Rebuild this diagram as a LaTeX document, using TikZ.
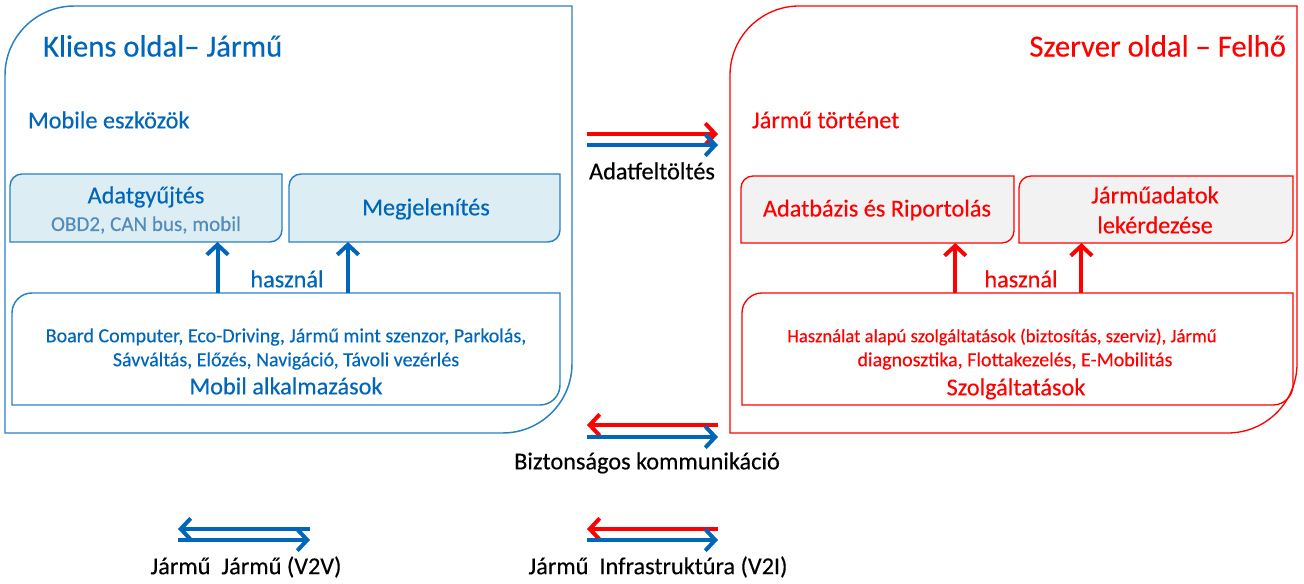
\documentclass[tikz,border=0pt]{standalone}
\usepackage{fontspec}
\setmainfont{Carlito}
\usetikzlibrary{arrows.meta,fit,backgrounds,calc}
\definecolor{kek}{RGB}{0,102,186}
\definecolor{keret}{RGB}{40,128,196}
\definecolor{halvany}{RGB}{220,238,244}
\definecolor{szurke}{RGB}{242,242,242}
\definecolor{piros}{RGB}{255,0,0}
\definecolor{alszov}{RGB}{84,140,184}
\newcommand{\fsize}[1]{\fontsize{#1}{#1}\selectfont\addfontfeature{FakeBold=0.35}}
% box with two round corners: top left and bottom right
\newcommand{\cornerbox}[3]{\draw [#3] (#1.south west) [rounded corners=#2] -- (#1.north west) [sharp corners] -- (#1.north east) [rounded corners=#2] -- (#1.south east) [sharp corners] -- cycle;}
\tikzset{
  hely/.style={inner sep=0pt,outer sep=0pt,align=center},
  cim/.style={font=\fsize{23}},
  alcim/.style={font=\fsize{18.2}},
  szoveg/.style={font=\fsize{18.2}},
  kicsi/.style={font=\fsize{15}},
  kicsiP/.style={font=\fsize{14}},
  nyil/.style={line width=3pt,-{Straight Barb[length=7.5pt,width=16pt,line width=3pt]}},
}
\begin{document}
\begin{tikzpicture}[x=0.75pt,y=-0.75pt]
\useasboundingbox (0,0) rectangle (1304,584);

% kliens oldal
\node [hely,fit={(5,6) (572,433)}] (kliens) {};
\node [hely,kek,cim,anchor=west] (kliensCim) at (43,46) {Kliens oldal-- Jármű};
\node [hely,kek,alcim,anchor=west] (mobile) at (28,120) {Mobile eszközök};
\node [hely,fit={(10,174) (282,242)},kek,alcim] (adat) {};
\node [hely,kek,alcim] (adatCim) at (146,197) {Adatgyűjtés};
\node [hely,alszov,font=\fsize{15.8}] (adatAl) at (146,225) {OBD2, CAN bus, mobil};
\node [hely,fit={(289,174) (560,242)},kek,alcim] (megj) {};
\node [hely,kek,alcim] (megjCim) at (426,209) {Megjelenítés};
\node [hely,fit={(12,293) (560,405)}] (mobApp) {};
\node [hely,kek,kicsi] (mobApp1) at (286,337) {Board Computer, Eco-Driving, Jármű mint szenzor, Parkolás,};
\node [hely,kek,kicsi] (mobApp2) at (286,361) {Sávváltás, Előzés, Navigáció, Távoli vezérlés};
\node [hely,kek,alcim] (mobApp3) at (286,386) {Mobil alkalmazások};
\node [hely,kek,alcim] (hasznalK) at (287,279) {használ};

% szerver oldal
\node [hely,fit={(730,6) (1297,433)}] (szerver) {};
\node [hely,piros,cim,anchor=east] (szerverCim) at (1286,46) {Szerver oldal -- Felhő};
\node [hely,piros,alcim,anchor=west] (tortenet) at (752,120) {Jármű történet};
\node [hely,fit={(741,176) (1014,243)}] (riport) {};
\node [hely,piros,alcim] (riportCim) at (877,210) {Adatbázis és Riportolás};
\node [hely,fit={(1019,176) (1293,243)}] (lekerd) {};
\node [hely,piros,alcim] (lekerd1) at (1155,195) {Járműadatok};
\node [hely,piros,alcim] (lekerd2) at (1155,225) {lekérdezése};
\node [hely,fit={(742,293) (1293,405)}] (szolg) {};
\node [hely,piros,kicsiP] (szolg1) at (1002,337) {Használat alapú szolgáltatások (biztosítás, szerviz), Jármű};
\node [hely,piros,kicsi] (szolg2) at (1015,361) {diagnosztika, Flottakezelés, E-Mobilitás};
\node [hely,piros,alcim] (szolg3) at (1016,389) {Szolgáltatások};
\node [hely,piros,alcim] (hasznalS) at (1021,279) {használ};

% felso es also nyilak feliratai
\node [hely,szoveg] (feltolt) at (652,171) {Adatfeltöltés};
\node [hely,szoveg] (bizt) at (647,463) {Biztonságos kommunikáció};
\node [hely,szoveg] (vvv) at (246,567) {Jármű\ \ Jármű (V2V)};
\node [hely,szoveg] (vvi) at (658,567) {Jármű\ \ Infrastruktúra (V2I)};

\begin{scope}[on background layer]
\cornerbox{kliens}{52pt}{keret,line width=1.1pt}
\cornerbox{adat}{9pt}{keret,line width=1.1pt,fill=halvany}
\cornerbox{megj}{9pt}{keret,line width=1.1pt,fill=halvany}
\cornerbox{mobApp}{15pt}{keret,line width=1.1pt}
\cornerbox{szerver}{52pt}{piros,line width=1pt}
\cornerbox{riport}{9pt}{piros,line width=1pt,fill=szurke}
\cornerbox{lekerd}{9pt}{piros,line width=1pt,fill=szurke}
\cornerbox{szolg}{15pt}{piros,line width=1pt}
\end{scope}

% hasznal nyilak
\coordinate (k1) at ($(mobApp.north west)!0.375!(mobApp.north east)$);
\coordinate (k2) at ($(mobApp.north west)!0.613!(mobApp.north east)$);
\coordinate (s1) at ($(szolg.north west)!0.387!(szolg.north east)$);
\coordinate (s2) at ($(szolg.north west)!0.616!(szolg.north east)$);
\draw [nyil,kek] (k1) -- (k1 |- adat.south);
\draw [nyil,kek] (k2) -- (k2 |- megj.south);
\draw [nyil,piros] (s1) -- (s1 |- riport.south);
\draw [nyil,piros] (s2) -- (s2 |- lekerd.south);

% vizszintes nyilak
\coordinate (a1) at (587,134);
\coordinate (a2) at (718,134);
\coordinate (a3) at (587,145);
\coordinate (a4) at (718,145);
\coordinate (b1) at (587,425);
\coordinate (b2) at (718,425);
\coordinate (b3) at (587,437);
\coordinate (b4) at (718,437);
\coordinate (c1) at (178,529);
\coordinate (c2) at (310,529);
\coordinate (c3) at (178,540);
\coordinate (c4) at (310,540);
\coordinate (d1) at (587,529);
\coordinate (d2) at (718,529);
\coordinate (d3) at (587,540);
\coordinate (d4) at (718,540);
\draw [nyil,piros] (a1) -- (a2);
\draw [nyil,kek] (a3) -- (a4);
\draw [nyil,piros] (b2) -- (b1);
\draw [nyil,kek] (b3) -- (b4);
\draw [nyil,kek] (c2) -- (c1);
\draw [nyil,kek] (c3) -- (c4);
\draw [nyil,piros] (d2) -- (d1);
\draw [nyil,kek] (d3) -- (d4);
\end{tikzpicture}
\end{document}
